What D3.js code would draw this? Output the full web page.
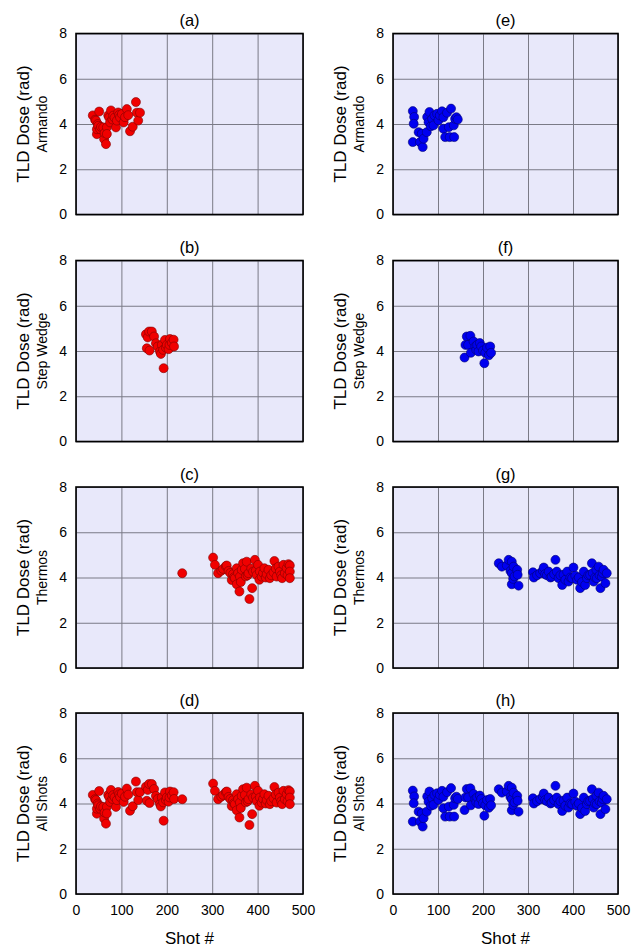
<!DOCTYPE html>
<html>
<head>
<meta charset="utf-8">
<script src="https://cdn.jsdelivr.net/npm/d3@7"></script>
<style>
  body { margin: 0; background: #fff; }
  svg { display: block; font-family: "Liberation Sans", Arial, sans-serif; }
</style>
</head>
<body>
<svg id="chart"></svg>
<script>
// [shot #, TLD dose (rad)]
const armandoRed = [
  [37, 4.38], [42, 4.19], [44, 4.15], [46, 3.55], [46, 3.77], [48, 4.0], [49, 3.92], [51, 4.55],
  [53, 3.77], [55, 3.87], [60, 3.85], [62, 3.33], [63, 3.6], [66, 3.11], [68, 3.85], [68, 3.56],
  [71, 4.38], [73, 4.29], [75, 4.07], [77, 4.6], [80, 4.2], [82, 4.37], [85, 4.28], [88, 3.85],
  [90, 4.15], [93, 4.51], [95, 4.4], [97, 4.29], [101, 4.44], [105, 4.07], [108, 4.3], [112, 4.66],
  [115, 4.39], [119, 3.68], [125, 3.88], [132, 4.97], [134, 4.5], [137, 4.15], [141, 4.5]
];
const stepWedgeRed = [
  [154, 4.74], [158, 4.6], [156, 4.12], [161, 4.86], [162, 4.02], [167, 4.86], [172, 4.64],
  [176, 4.34], [180, 4.2], [185, 3.98], [187, 3.87], [189, 4.27], [192, 4.05], [193, 3.24],
  [196, 4.49], [198, 4.15], [200, 4.27], [204, 4.08], [206, 4.27], [207, 4.53], [211, 4.36],
  [215, 4.5], [216, 4.2]
];
const thermosRed = [
  [234, 4.19], [302, 4.88], [306, 4.56], [313, 4.19], [320, 4.3], [324, 4.38], [330, 4.5],
  [332, 4.53], [336, 4.29], [340, 4.2], [343, 3.89], [346, 4.15], [348, 4.01], [350, 3.97],
  [354, 4.41], [354, 3.7], [357, 4.19], [360, 3.38], [361, 4.04], [363, 3.8], [365, 4.34],
  [368, 4.63], [372, 4.38], [374, 4.05], [376, 4.7], [378, 4.1], [380, 4.19], [382, 3.05],
  [386, 4.4], [388, 3.53], [390, 4.26], [394, 4.78], [396, 4.3], [398, 4.11], [401, 4.56],
  [404, 3.9], [405, 4.26], [409, 4.04], [412, 4.2], [415, 4.41], [418, 4.0], [420, 4.15],
  [424, 4.34], [427, 3.97], [430, 4.1], [435, 4.23], [437, 4.73], [440, 4.4], [442, 4.04],
  [446, 4.48], [449, 4.26], [452, 4.1], [454, 3.97], [457, 4.56], [460, 4.19], [464, 4.41],
  [466, 4.1], [468, 4.59], [471, 4.53], [471, 4.26], [471, 3.97]
];
const armandoBlue = [
  [44, 4.57], [47, 4.31], [46, 4.01], [44, 3.2], [57, 3.64], [60, 3.2], [64, 3.57], [66, 2.98],
  [68, 3.35], [75, 3.64], [76, 4.31], [79, 4.08], [81, 4.53], [84, 3.9], [87, 4.23], [90, 3.94],
  [92, 4.38], [98, 4.45], [101, 4.16], [104, 4.38], [109, 4.56], [112, 4.3], [112, 3.79],
  [116, 3.42], [120, 4.5], [124, 3.86], [126, 3.42], [129, 4.68], [135, 3.94], [136, 3.42],
  [138, 4.23], [141, 4.3], [144, 4.2]
];
const stepWedgeBlue = [
  [159, 3.71], [161, 4.27], [164, 4.64], [167, 4.27], [172, 4.67], [173, 3.92], [179, 4.42],
  [183, 4.2], [185, 4.05], [187, 4.27], [190, 3.98], [193, 4.35], [196, 4.2], [200, 4.02],
  [203, 3.46], [205, 3.92], [209, 4.15], [213, 3.81], [216, 4.2], [218, 3.92]
];
const thermosBlue = [
  [235, 4.63], [242, 4.48], [253, 4.53], [257, 4.78], [261, 4.29], [264, 4.7], [264, 4.19],
  [264, 3.7], [267, 3.94], [268, 4.48], [270, 4.05], [276, 4.34], [277, 4.12], [279, 3.64],
  [311, 4.23], [313, 4.0], [320, 4.1], [327, 4.19], [333, 4.3], [335, 4.44], [338, 4.15],
  [342, 4.1], [346, 4.26], [350, 4.0], [353, 4.04], [358, 4.15], [361, 4.78], [364, 4.26],
  [368, 3.97], [372, 4.1], [376, 3.67], [379, 4.12], [383, 3.9], [387, 4.26], [390, 3.82],
  [394, 4.0], [398, 3.97], [401, 4.44], [405, 4.08], [409, 3.9], [413, 4.0], [416, 3.53],
  [420, 3.8], [424, 4.26], [427, 3.67], [431, 3.97], [434, 4.1], [438, 4.12], [442, 4.63],
  [444, 4.2], [446, 3.82], [449, 4.0], [452, 4.34], [453, 3.97], [457, 4.48], [459, 4.1],
  [461, 3.53], [464, 4.04], [466, 4.2], [468, 4.34], [472, 3.75], [475, 4.19]
];

const shotTicks = [0, 100, 200, 300, 400, 500];
const doseTicks = [0, 2, 4, 6, 8];
const subLabels = ["Armando", "Step Wedge", "Thermos", "All Shots"];
const panelLetters = [["(a)", "(b)", "(c)", "(d)"], ["(e)", "(f)", "(g)", "(h)"]];

const chartSize = { width: 636, height: 950 };
const columns = [
  { x: 76, w: 227, fill: "#f00000", stroke: "#800000" },
  { x: 393, w: 225, fill: "#0000f0", stroke: "#000070" }
];
const rowTops = [33.5, 260.5, 487, 713];
const plotHeight = 181;

const seriesByColumn = [
  [armandoRed, stepWedgeRed, thermosRed, [...armandoRed, ...stepWedgeRed, ...thermosRed]],
  [armandoBlue, stepWedgeBlue, thermosBlue, [...armandoBlue, ...stepWedgeBlue, ...thermosBlue]]
];

const drawPanel = (svg, col, row) => {
  const c = columns[col];
  const w = c.w;
  const h = plotHeight;
  const data = seriesByColumn[col][row];

  const x = d3.scaleLinear().domain([0, 500]).range([0, w]);
  const y = d3.scaleLinear().domain([0, 8]).range([h, 0]);

  const g = svg.append("g").attr("transform", `translate(${c.x},${rowTops[row]})`);

  g.append("rect").attr("width", w).attr("height", h).attr("fill", "#e8e8fa");

  // grid lines
  const gx = g.append("g")
    .call(d3.axisBottom(x).tickValues(shotTicks).tickSize(h).tickFormat(""));
  const gy = g.append("g")
    .call(d3.axisLeft(y).tickValues(doseTicks).tickSize(-w).tickFormat(""));
  [gx, gy].forEach(a => {
    a.select(".domain").remove();
    a.selectAll("line").attr("stroke", "#7a7a86").attr("stroke-width", 1);
  });

  // tick labels
  const yAxis = g.append("g")
    .call(d3.axisLeft(y).tickValues(doseTicks).tickSize(0).tickPadding(9));
  yAxis.select(".domain").remove();
  yAxis.selectAll("text").attr("font-size", 14).attr("fill", "#000");
  yAxis.attr("font-family", null);

  if (row === 3) {
    const xAxis = g.append("g")
      .attr("transform", `translate(0,${h})`)
      .call(d3.axisBottom(x).tickValues(shotTicks).tickSize(0).tickPadding(11.5));
    xAxis.select(".domain").remove();
    xAxis.selectAll("text").attr("font-size", 14).attr("fill", "#000");
    xAxis.attr("font-family", null);

    g.append("text")
      .attr("x", w / 2)
      .attr("y", h + 50)
      .attr("text-anchor", "middle")
      .attr("font-size", 17)
      .text("Shot #");
  }

  g.selectAll("circle.pt")
    .data(data)
    .join("circle")
    .attr("class", "pt")
    .attr("cx", d => x(d[0]))
    .attr("cy", d => y(d[1]))
    .attr("r", 4.5)
    .attr("fill", c.fill)
    .attr("stroke", c.stroke)
    .attr("stroke-width", 0.6);

  g.append("rect")
    .attr("width", w)
    .attr("height", h)
    .attr("fill", "none")
    .attr("stroke", "#000")
    .attr("stroke-width", 1.6);

  g.append("text")
    .attr("x", w / 2)
    .attr("y", -7.5)
    .attr("text-anchor", "middle")
    .attr("font-size", 16.5)
    .text(panelLetters[col][row]);

  g.append("text")
    .attr("transform", "rotate(-90)")
    .attr("x", -h / 2)
    .attr("y", -52.5)
    .attr("dy", "0.35em")
    .attr("text-anchor", "middle")
    .attr("font-size", 17)
    .text("TLD Dose (rad)");

  g.append("text")
    .attr("transform", "rotate(-90)")
    .attr("x", -h / 2)
    .attr("y", -33.5)
    .attr("dy", "0.35em")
    .attr("text-anchor", "middle")
    .attr("font-size", 14)
    .text(subLabels[row]);
};

const main = () => {
  const svg = d3.select("#chart")
    .attr("width", chartSize.width)
    .attr("height", chartSize.height);
  svg.append("rect").attr("width", chartSize.width).attr("height", chartSize.height).attr("fill", "#fff");
  columns.forEach((c, col) => rowTops.forEach((t, row) => drawPanel(svg, col, row)));
};

main();
</script>
</body>
</html>
